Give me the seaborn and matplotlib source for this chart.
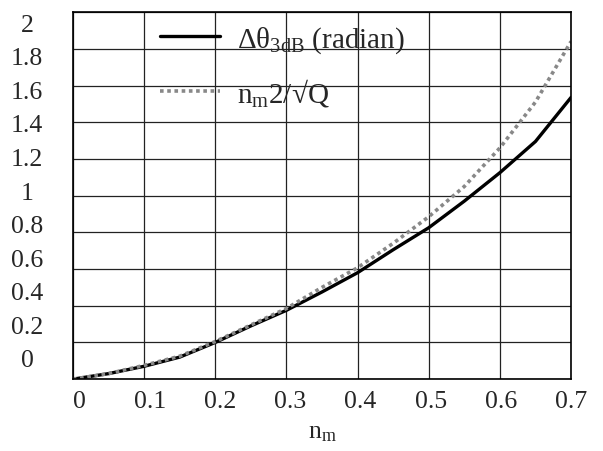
import numpy as np
import pandas as pd
import seaborn as sns
import matplotlib
matplotlib.use("Agg")
import matplotlib.pyplot as plt

# data
nm = [0.0, 0.05, 0.1, 0.15, 0.2, 0.25, 0.3, 0.35, 0.4, 0.45, 0.5, 0.55, 0.6, 0.65, 0.7]
dtheta = [0.0, 0.03, 0.07, 0.12, 0.2, 0.29, 0.375, 0.475, 0.58, 0.705, 0.825, 0.97, 1.125, 1.295, 1.535]
approx = [0.0, 0.03, 0.075, 0.125, 0.205, 0.295, 0.385, 0.5, 0.607, 0.74, 0.885, 1.05, 1.26, 1.51, 1.84]
xticks = [0, 0.1, 0.2, 0.3, 0.4, 0.5, 0.6, 0.7]
yticks = [0, 0.2, 0.4, 0.6, 0.8, 1, 1.2, 1.4, 1.6, 1.8, 2]
xlabels = ["0", "0.1", "0.2", "0.3", "0.4", "0.5", "0.6", "0.7"]
ylabels = ["0", "0.2", "0.4", "0.6", "0.8", "1", "1.2", "1.4", "1.6", "1.8", "2"]

sns.set_style("white")
plt.rcParams["font.family"] = ["Liberation Serif", "DejaVu Serif"]
plt.rcParams["mathtext.fontset"] = "custom"
plt.rcParams["mathtext.rm"] = "Liberation Serif"
plt.rcParams["mathtext.it"] = "Liberation Serif:italic"

df = pd.DataFrame({"nm": nm, "dtheta": dtheta, "approx": approx})

fig = plt.figure(figsize=(6.03, 4.52), dpi=100)
ax = fig.add_axes([0.121, 0.159, 0.826, 0.812])

sns.lineplot(data=df, x="nm", y="dtheta", ax=ax, color="black", lw=2.4,
             label="Δθ$_{\\rm 3dB}$ (radian)")
sns.lineplot(data=df, x="nm", y="approx", ax=ax, color="#888888", lw=2.6,
             linestyle=(0, (1, 1)), label="n$_{\\rm m}$2/√Q")

ax.set_xlim(0, 0.7)
ax.set_ylim(0, 2)
ax.set_xticks(xticks)
ax.set_yticks(yticks)
ax.set_xticklabels([])
ax.set_yticklabels([])
ax.tick_params(length=0)
ax.grid(True, color="#222222", lw=0.9)
ax.set_axisbelow(True)
for s in ax.spines.values():
    s.set_color("black")
    s.set_linewidth(1.2)
ax.set_xlabel("n$_{\\rm m}$", fontsize=18.5, labelpad=27)
ax.set_ylabel("")

# tick labels spaced like the original (Mathcad places them a bit off the grid)
axy = ax.twinx()
axy.set_ylim(-0.126, 2.06)
axy.set_yticks(yticks)
axy.set_yticklabels(ylabels, fontsize=18.5, ha="center")
axy.yaxis.set_ticks_position("left")
axy.yaxis.set_label_position("left")
axy.tick_params(axis="y", length=0, pad=33)
for s in axy.spines.values():
    s.set_visible(False)

axx = ax.twiny()
axx.set_xlim(-0.00976, 0.6848)
axx.set_xticks(xticks)
axx.set_xticklabels(xlabels, fontsize=18.5)
axx.xaxis.set_ticks_position("bottom")
axx.tick_params(axis="x", length=0, pad=7.5)
for s in axx.spines.values():
    s.set_visible(False)

leg = ax.legend(loc="upper left", bbox_to_anchor=(0.175, 0.968), frameon=False,
                fontsize=21, handlelength=2.05, handletextpad=0.58,
                labelspacing=0.72, borderpad=0, borderaxespad=0)

fig.savefig("out.png", dpi=100)
